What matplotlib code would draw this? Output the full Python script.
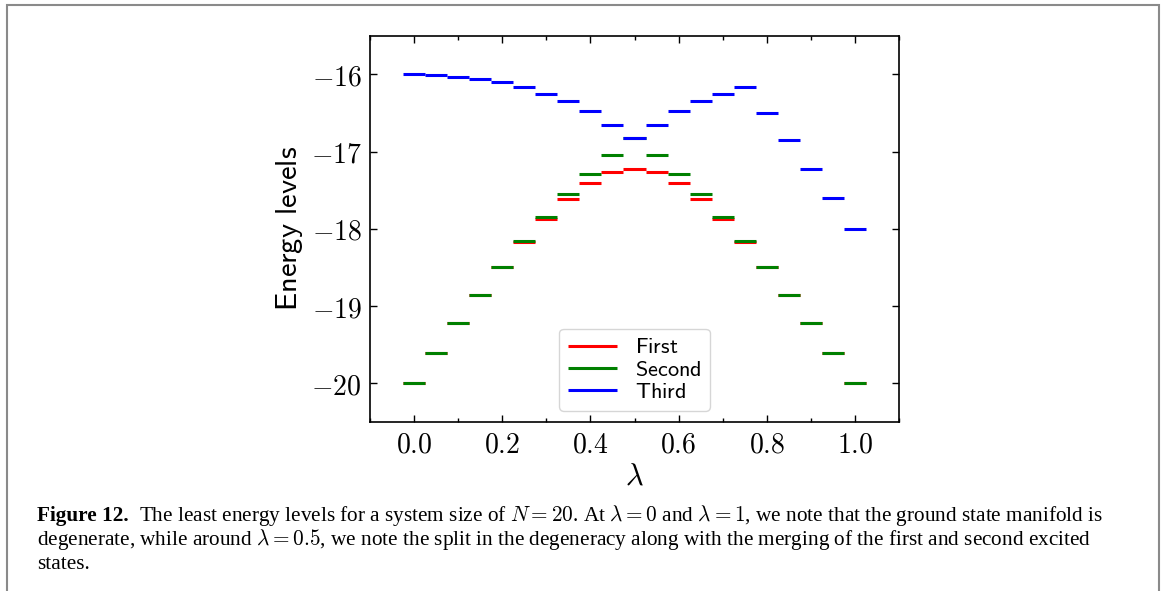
import numpy as np
import matplotlib
matplotlib.use("Agg")
import matplotlib.pyplot as plt
from matplotlib.patches import Rectangle

plt.rcParams['mathtext.fontset'] = 'cm'

# lambda values (segment centres) and the three lowest levels
lam = [0.00, 0.05, 0.10, 0.15, 0.20, 0.25, 0.30, 0.35, 0.40, 0.45, 0.50,
       0.55, 0.60, 0.65, 0.70, 0.75, 0.80, 0.85, 0.90, 0.95, 1.00]
first = [-20.00, -19.61, -19.22, -18.85, -18.50, -18.17, -17.875, -17.61, -17.41, -17.27, -17.23,
         -17.27, -17.41, -17.61, -17.875, -18.17, -18.50, -18.85, -19.22, -19.61, -20.00]
second = [-20.00, -19.61, -19.22, -18.85, -18.50, -18.16, -17.85, -17.55, -17.29, -17.04, -16.83,
          -17.04, -17.29, -17.55, -17.85, -18.16, -18.50, -18.85, -19.22, -19.61, -20.00]
third = [-16.00, -16.005, -16.03, -16.06, -16.10, -16.165, -16.25, -16.35, -16.48, -16.65, -16.83,
         -16.65, -16.48, -16.35, -16.25, -16.17, -16.50, -16.85, -17.22, -17.60, -18.00]

series = [(first, 'red', 'First'), (second, 'green', 'Second'), (third, 'blue', 'Third')]

xticks = [0.0, 0.2, 0.4, 0.6, 0.8, 1.0]
yticks = [-20, -19, -18, -17, -16]
half_w = 0.025

fig = plt.figure(figsize=(11.65, 5.91), dpi=100)
ax = fig.add_axes([370 / 1165, 1 - 422 / 591, 529 / 1165, 386.3 / 591])

x = np.array(lam)
for vals, col, name in series:
    ax.hlines(vals, x - half_w, x + half_w, colors=col, linewidth=2.2,
              label=r'$\mathsf{' + name + '}$')

ax.set_xlim(-0.1, 1.1)
ax.set_ylim(-20.5, -15.5)
ax.set_xticks(xticks, labels=[f'${v:.1f}$' for v in xticks])
ax.set_yticks(yticks, labels=[f'${v}$' for v in yticks])
ax.set_xticks(np.arange(-0.1, 1.11, 0.1), minor=True)
ax.tick_params(which='both', direction='in', top=True, right=True, labelsize=20, width=1.0)
ax.tick_params(which='major', length=5, pad=6)
ax.tick_params(which='minor', length=3)
for sp in ax.spines.values():
    sp.set_linewidth(1.2)

ax.set_xlabel(r'$\lambda$', fontsize=22, labelpad=2)
ax.set_ylabel(r'$\mathsf{Energy\ levels}$', fontsize=22, labelpad=4)

ax.legend(loc='lower center', bbox_to_anchor=(0.5, 0.029), borderaxespad=0,
          fontsize=16, handlelength=2.2, labelspacing=0.1, handletextpad=0.8)

# page frame around the figure
fig.patches.append(Rectangle((7 / 1165, -0.05), 1152 / 1165, 1 - 5 / 591 + 0.05,
                             transform=fig.transFigure, fill=False,
                             edgecolor='#8a8a8a', linewidth=1.5))

# caption
cap_font = dict(family='Liberation Serif', fontsize=15.3)
x0 = 37 / 1165
ys = [1 - 521 / 591, 1 - 545 / 591, 1 - 569 / 591]
bold = fig.text(x0, ys[0], 'Figure 12.', fontweight='bold', **cap_font)
fig.canvas.draw()
bb = bold.get_window_extent(fig.canvas.get_renderer())
fig.text(bb.x1 / 1165 + 10 / 1165, ys[0],
         r'The least energy levels for a system size of $N = 20$. At $\lambda = 0$ and '
         r'$\lambda = 1$, we note that the ground state manifold is', **cap_font)
fig.text(x0, ys[1],
         r'degenerate, while around $\lambda = 0.5$, we note the split in the degeneracy '
         r'along with the merging of the first and second excited', **cap_font)
fig.text(x0, ys[2], 'states.', **cap_font)

fig.savefig('out.png', dpi=100)
